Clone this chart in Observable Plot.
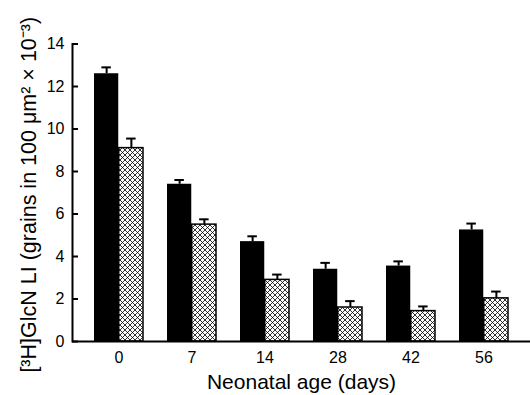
<!DOCTYPE html>
<html>
<head>
<meta charset="utf-8">
<script src="https://cdn.jsdelivr.net/npm/d3@7"></script>
<script src="https://cdn.jsdelivr.net/npm/@observablehq/plot@0.6"></script>
<style>
  html, body { margin: 0; padding: 0; background: #fff; }
  svg { display: block; }
  g[aria-label="x-axis label"] text { font-size: 21px !important; }
</style>
</head>
<body>
<div id="chart"></div>
<script>
// Data
const ages = ["0", "7", "14", "28", "42", "56"];
const solidValues = [12.6, 7.4, 4.7, 3.4, 3.55, 5.25];
const solidErrors = [0.3, 0.2, 0.25, 0.3, 0.22, 0.3];
const hatchValues = [9.1, 5.5, 2.9, 1.6, 1.43, 2.03];
const hatchErrors = [0.45, 0.25, 0.25, 0.3, 0.22, 0.32];
const yTicks = [0, 2, 4, 6, 8, 10, 12, 14];
const xLabel = "Neonatal age (days)";
const yLabel = "[\u00B3H]GlcN LI (grains in 100 \u03BCm\u00B2 \u00D7 10\u207B\u00B3)";

const W = 530, H = 395;
const margin = {left: 72, right: 0, top: 43.5, bottom: 54};
const xOpts = {type: "band", domain: ages, paddingInner: 0.327, paddingOuter: 0.277};
const bw = Plot.scale({x: {...xOpts, range: [margin.left, W - margin.right]}}).bandwidth;
const half = bw / 2, cap = 5;

const solid = ages.map((a, i) => ({age: a, v: solidValues[i], e: solidErrors[i]}));
const hatch = ages.map((a, i) => ({age: a, v: hatchValues[i], e: hatchErrors[i]}));

const font = "'Liberation Sans', Arial, Helvetica, sans-serif";

const chart = Plot.plot({
  width: W,
  height: H,
  marginLeft: margin.left,
  marginRight: margin.right,
  marginTop: margin.top,
  marginBottom: margin.bottom,
  style: {fontFamily: font, background: "#fff", color: "#000"},
  x: xOpts,
  y: {domain: [0, 14]},
  marks: [
    // error bars (upward only)
    Plot.ruleX(solid, {x: "age", y1: "v", y2: d => d.v + d.e, dx: -bw / 4, stroke: "#000", strokeWidth: 2}),
    Plot.tickY(solid, {x: "age", y: d => d.v + d.e, insetLeft: bw / 4 - cap, insetRight: bw * 3 / 4 - cap, stroke: "#000", strokeWidth: 2}),
    Plot.ruleX(hatch, {x: "age", y1: "v", y2: d => d.v + d.e, dx: bw / 4, stroke: "#000", strokeWidth: 2}),
    Plot.tickY(hatch, {x: "age", y: d => d.v + d.e, insetLeft: bw * 3 / 4 - cap, insetRight: bw / 4 - cap, stroke: "#000", strokeWidth: 2}),
    // bars
    Plot.barY(solid, {x: "age", y: "v", insetLeft: 0, insetRight: half, fill: "#000"}),
    Plot.barY(hatch, {x: "age", y: "v", insetLeft: half, insetRight: 0, fill: "url(#xhatch)", stroke: "#000", strokeWidth: 1.5}),
    // axes
    Plot.axisY(yTicks, {anchor: "left", tickSize: 0, tickPadding: 8, fontSize: 16, label: null}),
    Plot.axisY(yTicks, {anchor: "right", frameAnchor: "left", tickSize: 5, text: null, label: null, strokeWidth: 2}),
    Plot.text([yLabel], {frameAnchor: "left", rotate: -90, textAnchor: "middle", lineAnchor: "middle",
      dx: -43, dy: 2, fontSize: 21.5}),
    Plot.axisX({anchor: "bottom", tickSize: 0, tickPadding: 10.6, fontSize: 16,
      label: xLabel, labelArrow: "none", labelAnchor: "center", labelOffset: 47}),
    Plot.frame({anchor: "left", strokeWidth: 2}),
    Plot.ruleY([0], {strokeWidth: 2})
  ]
});

// cross-hatch pattern definition
const ns = "http://www.w3.org/2000/svg";
const defs = document.createElementNS(ns, "defs");
defs.innerHTML = `<pattern id="xhatch" patternUnits="userSpaceOnUse" width="5" height="5">
  <rect width="5" height="5" fill="#fff"/>
  <path d="M0,0L5,5M5,0L0,5M-1,4L1,6M4,-1L6,1M-1,1L1,-1M4,6L6,4" stroke="#000" stroke-width="0.8"/>
</pattern>`;
chart.insertBefore(defs, chart.firstChild);

document.getElementById("chart").appendChild(chart);
</script>
</body>
</html>
